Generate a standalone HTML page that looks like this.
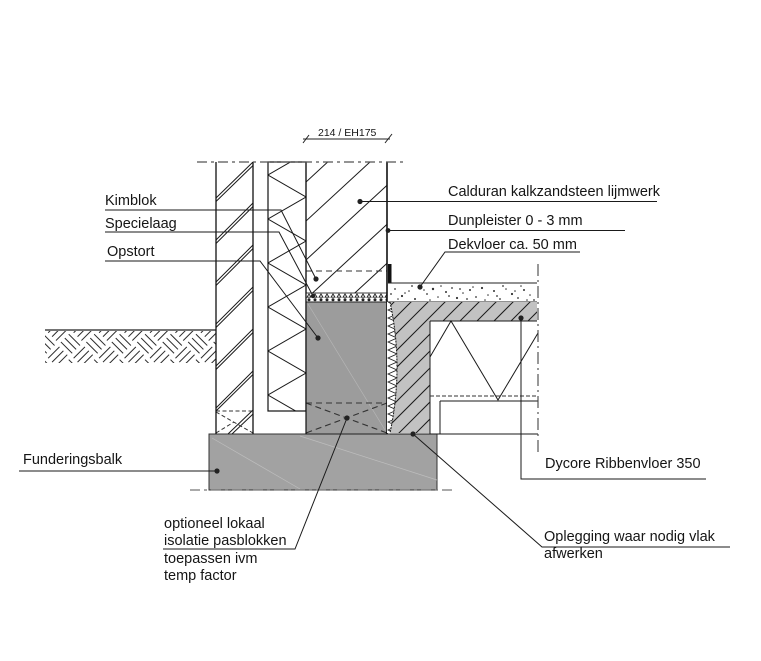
<!DOCTYPE html>
<html><head><meta charset="utf-8"><style>
html,body{margin:0;padding:0;background:#fff;}
svg{display:block;}
text{font-family:"Liberation Sans",Arial,sans-serif;fill:#151515;}
</style></head><body>
<svg width="761" height="661" viewBox="0 0 761 661" xmlns="http://www.w3.org/2000/svg">
<defs>
  <pattern id="ground" width="36" height="36" patternUnits="userSpaceOnUse" patternTransform="translate(45,331) rotate(45)">
    <g stroke="#2a2a2a" stroke-width="1">
      <line x1="1" y1="3.5" x2="17" y2="3.5"/><line x1="1" y1="9" x2="17" y2="9"/><line x1="1" y1="14.5" x2="17" y2="14.5"/>
      <line x1="21.5" y1="1" x2="21.5" y2="17"/><line x1="27" y1="1" x2="27" y2="17"/><line x1="32.5" y1="1" x2="32.5" y2="17"/>
      <line x1="3.5" y1="19" x2="3.5" y2="35"/><line x1="9" y1="19" x2="9" y2="35"/><line x1="14.5" y1="19" x2="14.5" y2="35"/>
      <line x1="19" y1="21.5" x2="35" y2="21.5"/><line x1="19" y1="27" x2="35" y2="27"/><line x1="19" y1="32.5" x2="35" y2="32.5"/>
    </g>
  </pattern>
  <pattern id="mortar" width="6" height="9" patternUnits="userSpaceOnUse" x="306" y="293">
    <rect width="6" height="9" fill="#fff"/>
    <polygon points="1,4.2 3,1 5,4.2" fill="none" stroke="#222" stroke-width="0.9"/>
    <circle cx="3" cy="6.8" r="1.5" fill="#222"/>
  </pattern>
  <clipPath id="innerTop"><rect x="306" y="162" width="81" height="131"/></clipPath>
  <clipPath id="ins"><rect x="268" y="162" width="38" height="249"/></clipPath>
  <clipPath id="slab"><path d="M390,302 L537,302 L537,321 L430,321 L430,433 L390,433 Q404,367 390,302 Z"/></clipPath>
  <clipPath id="strip"><path d="M387,302 L390,302 Q404,367 390,433 L387,433 Z"/></clipPath>
</defs>

<!-- ground -->
<rect x="45" y="331" width="171" height="32" fill="url(#ground)"/>
<line x1="45" y1="330" x2="216" y2="330" stroke="#222" stroke-width="1.2"/>

<!-- foundation -->
<rect x="209" y="434" width="228" height="56" fill="#a2a2a2" stroke="#333" stroke-width="1"/>
<g stroke="#bdbdbd" stroke-width="0.7">
  <line x1="212" y1="438" x2="300" y2="489"/>
  <line x1="300" y1="436" x2="437" y2="480"/>
</g>

<!-- outer leaf -->
<g stroke="#1a1a1a" stroke-width="1">
  <line x1="216" y1="198" x2="253" y2="162"/><line x1="216" y1="201.5" x2="253" y2="165.5"/>
  <line x1="216" y1="240" x2="253" y2="203"/><line x1="216" y1="243.5" x2="253" y2="206.5"/>
  <line x1="216" y1="282" x2="253" y2="245"/><line x1="216" y1="285.5" x2="253" y2="248.5"/>
  <line x1="216" y1="324" x2="253" y2="287"/><line x1="216" y1="327.5" x2="253" y2="290.5"/>
  <line x1="216" y1="366" x2="253" y2="329"/><line x1="216" y1="369.5" x2="253" y2="332.5"/>
  <line x1="216" y1="408" x2="253" y2="371"/><line x1="216" y1="411" x2="253" y2="374.5"/>
  <line x1="228" y1="434" x2="253" y2="410"/><line x1="232" y1="434" x2="253" y2="414"/>
</g>
<g stroke="#333" stroke-width="1" stroke-dasharray="4 2.5">
  <line x1="216" y1="411" x2="253" y2="411"/>
  <line x1="216" y1="412" x2="253" y2="433"/>
  <line x1="216" y1="433" x2="234" y2="422"/>
</g>
<line x1="216" y1="162" x2="216" y2="434" stroke="#111" stroke-width="1.3"/>
<line x1="253" y1="162" x2="253" y2="434" stroke="#111" stroke-width="1.3"/>

<!-- insulation -->
<g clip-path="url(#ins)">
  <polyline fill="none" stroke="#1a1a1a" stroke-width="1" points="306,153 268,175 306,197 268,219 306,241 268,263 306,285 268,307 306,329 268,351 306,373 268,395 306,417"/>
</g>
<rect x="268" y="162" width="38" height="249" fill="none" stroke="#111" stroke-width="1.2"/>

<!-- inner wall upper -->
<g clip-path="url(#innerTop)" stroke="#1a1a1a" stroke-width="1">
  <line x1="306" y1="182" x2="396" y2="99"/>
  <line x1="306" y1="221" x2="396" y2="138"/>
  <line x1="306" y1="260" x2="396" y2="177"/>
  <line x1="306" y1="299" x2="396" y2="216"/>
  <line x1="306" y1="338" x2="396" y2="255"/>
</g>
<line x1="306" y1="271" x2="387" y2="271" stroke="#333" stroke-width="1" stroke-dasharray="6 4"/>

<!-- mortar -->
<rect x="306" y="293" width="81" height="9" fill="url(#mortar)" stroke="#111" stroke-width="0.8"/>

<!-- gray block -->
<rect x="306" y="302" width="81" height="132" fill="#9c9c9c" stroke="#222" stroke-width="1"/>
<line x1="308" y1="304" x2="385" y2="430" stroke="#b8b8b8" stroke-width="0.6"/>
<g stroke="#333" stroke-width="1.1" stroke-dasharray="6 4">
  <line x1="306" y1="403" x2="387" y2="403"/>
  <line x1="306" y1="403" x2="387" y2="433"/>
  <line x1="387" y1="403" x2="306" y2="433"/>
</g>

<line x1="306" y1="162" x2="306" y2="434" stroke="#111" stroke-width="1.2"/>
<line x1="387" y1="162" x2="387" y2="434" stroke="#111" stroke-width="1.6"/>
<rect x="388" y="264" width="3.5" height="19" fill="#111"/>

<!-- dekvloer -->
<rect x="388" y="283" width="149" height="19" fill="#fff"/>
<g fill="#333">
  <circle cx="395" cy="289" r="0.9"/><circle cx="402" cy="296" r="1.1"/><circle cx="409" cy="291" r="0.8"/><circle cx="415" cy="299" r="1"/>
  <circle cx="427" cy="294" r="0.9"/><circle cx="433" cy="289" r="1.2"/><circle cx="438" cy="297" r="0.8"/><circle cx="446" cy="292" r="1"/>
  <circle cx="452" cy="288" r="0.9"/><circle cx="457" cy="298" r="1.1"/><circle cx="463" cy="293" r="0.8"/><circle cx="470" cy="290" r="1"/>
  <circle cx="476" cy="297" r="0.9"/><circle cx="482" cy="288" r="1.1"/><circle cx="488" cy="295" r="0.8"/><circle cx="494" cy="291" r="1"/>
  <circle cx="500" cy="299" r="0.9"/><circle cx="506" cy="289" r="0.8"/><circle cx="512" cy="294" r="1.1"/><circle cx="518" cy="298" r="0.9"/>
  <circle cx="524" cy="290" r="1"/><circle cx="530" cy="295" r="0.8"/><circle cx="398" cy="299" r="0.8"/><circle cx="412" cy="286" r="0.9"/>
  <circle cx="441" cy="286" r="0.8"/><circle cx="467" cy="299" r="0.9"/><circle cx="485" cy="300" r="0.8"/><circle cx="503" cy="286" r="0.9"/>
  <circle cx="521" cy="286" r="0.8"/><circle cx="534" cy="300" r="0.9"/><circle cx="405" cy="293" r="0.8"/><circle cx="449" cy="296" r="0.9"/>
  <circle cx="473" cy="287" r="0.8"/><circle cx="497" cy="296" r="0.9"/><circle cx="515" cy="291" r="0.8"/><circle cx="460" cy="289" r="0.9"/>
  <circle cx="430" cy="300" r="0.8"/><circle cx="424" cy="290" r="0.8"/><circle cx="391" cy="294" r="0.9"/><circle cx="527" cy="300" r="0.8"/>
</g>
<line x1="388" y1="283" x2="537" y2="283" stroke="#222" stroke-width="1"/>
<line x1="388" y1="302" x2="537" y2="302" stroke="#222" stroke-width="1.1"/>

<!-- slab hatched -->
<path d="M390,302 L537,302 L537,321 L430,321 L430,433 L390,433 Q404,367 390,302 Z" fill="#c2c2c2"/>
<g clip-path="url(#slab)" stroke="#1a1a1a" stroke-width="1">
  <line x1="600" y1="96" x2="380" y2="316"/>
  <line x1="620" y1="93" x2="380" y2="333"/>
  <line x1="640" y1="90" x2="380" y2="350"/>
  <line x1="660" y1="87" x2="380" y2="367"/>
  <line x1="680" y1="84" x2="380" y2="384"/>
  <line x1="700" y1="81" x2="380" y2="401"/>
  <line x1="720" y1="78" x2="380" y2="418"/>
  <line x1="740" y1="75" x2="380" y2="435"/>
  <line x1="760" y1="72" x2="380" y2="452"/>
  <line x1="780" y1="69" x2="380" y2="469"/>
  <line x1="800" y1="66" x2="380" y2="486"/>
  <line x1="820" y1="63" x2="380" y2="503"/>
  <line x1="840" y1="60" x2="380" y2="520"/>
  <line x1="860" y1="57" x2="380" y2="537"/>
  <line x1="880" y1="54" x2="380" y2="554"/>
</g>
<!-- strip -->
<path d="M387,302 L390,302 Q404,367 390,433 L387,433 Z" fill="#fff"/>
<g clip-path="url(#strip)">
  <polyline fill="none" stroke="#222" stroke-width="0.9" points="388,302 397,306 388,310 397,314 388,318 397,322 388,326 397,330 388,334 397,338 388,342 397,346 388,350 397,354 388,358 397,362 388,366 397,370 388,374 397,378 388,382 397,386 388,390 397,394 388,398 397,402 388,406 397,410 388,414 397,418 388,422 397,426 388,430 397,434"/>
</g>
<path d="M390,302 Q404,367 390,433" fill="none" stroke="#222" stroke-width="1.1" stroke-dasharray="2 1"/>

<!-- hollow core details -->
<g stroke="#1a1a1a" stroke-width="1" fill="none">
  <line x1="430" y1="321" x2="537" y2="321"/>
  <line x1="430" y1="321" x2="430" y2="434"/>
  <polyline points="430,357 451,321 498,400 538,333"/>
  <line x1="440" y1="401" x2="538" y2="401"/>
  <line x1="440" y1="401" x2="440" y2="434"/>
  <line x1="390" y1="434" x2="538" y2="434"/>
</g>
<line x1="430" y1="396" x2="538" y2="396" stroke="#333" stroke-width="1" stroke-dasharray="4 2"/>

<!-- center lines -->
<line x1="197" y1="162" x2="405" y2="162" stroke="#555" stroke-width="1.3" stroke-dasharray="10 4 3 4"/>
<line x1="190" y1="490" x2="455" y2="490" stroke="#777" stroke-width="1.3" stroke-dasharray="10 4 3 4"/>
<line x1="538" y1="264" x2="538" y2="452" stroke="#444" stroke-width="1.1" stroke-dasharray="12 4 2 4"/>

<!-- dimension -->
<line x1="303" y1="139" x2="390" y2="139" stroke="#222" stroke-width="1"/>
<line x1="303" y1="143" x2="309" y2="135" stroke="#222" stroke-width="1"/>
<line x1="385" y1="143" x2="392" y2="134" stroke="#222" stroke-width="1"/>
<text x="318" y="136" font-size="10.5">214 / EH175</text>

<!-- leaders -->
<g stroke="#1a1a1a" stroke-width="1" fill="none">
  <polyline points="105,210 281,210 316,279"/>
  <polyline points="105,232 279,232 313,296"/>
  <polyline points="105,261 260,261 318,338"/>
  <line x1="360" y1="201.5" x2="657" y2="201.5"/>
  <line x1="388" y1="230.5" x2="625" y2="230.5"/>
  <polyline points="420,287 445,252 580,252"/>
  <line x1="19" y1="471" x2="217" y2="471"/>
  <polyline points="347,418 295,549 163,549"/>
  <polyline points="521,318 521,479 706,479"/>
  <polyline points="413,434 542,547 730,547"/>
</g>
<g fill="#222">
  <circle cx="316" cy="279" r="2.6"/>
  <circle cx="313" cy="296" r="2.2"/>
  <circle cx="318" cy="338" r="2.6"/>
  <circle cx="360" cy="201.5" r="2.6"/>
  <circle cx="388" cy="230.5" r="2.4"/>
  <circle cx="420" cy="287" r="2.6"/>
  <circle cx="217" cy="471" r="2.6"/>
  <circle cx="347" cy="418" r="2.6"/>
  <circle cx="521" cy="318" r="2.6"/>
  <circle cx="413" cy="434" r="2.6"/>
</g>

<!-- labels -->
<g font-size="14.5">
  <text x="105" y="205">Kimblok</text>
  <text x="105" y="228">Specielaag</text>
  <text x="107" y="256">Opstort</text>
  <text x="448" y="196">Calduran kalkzandsteen lijmwerk</text>
  <text x="448" y="225">Dunpleister 0 - 3 mm</text>
  <text x="448" y="249">Dekvloer ca. 50 mm</text>
  <text x="23" y="464">Funderingsbalk</text>
  <text x="545" y="468">Dycore Ribbenvloer 350</text>
  <text x="544" y="541">Oplegging waar nodig vlak</text>
  <text x="544" y="558">afwerken</text>
  <text x="164" y="528">optioneel lokaal</text>
  <text x="164" y="545">isolatie pasblokken</text>
  <text x="164" y="563">toepassen ivm</text>
  <text x="164" y="580">temp factor</text>
</g>
</svg>
</body></html>
